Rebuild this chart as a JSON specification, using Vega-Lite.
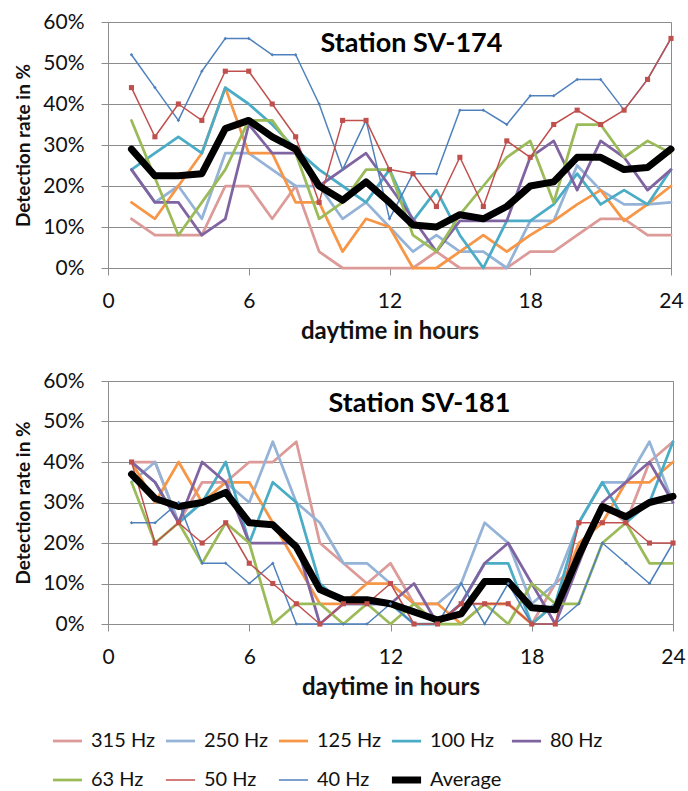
{
  "$schema": "https://vega.github.io/schema/vega-lite/v6.json",
  "padding": {"left": 14, "top": 10, "right": 10, "bottom": 0},
  "background": "white",
  "config": {
    "font": "Lato",
    "view": {"stroke": "#8c8c8c", "strokeWidth": 1},
    "axis": {
      "gridColor": "#8c8c8c", "domainColor": "#8c8c8c", "tickColor": "#8c8c8c",
      "labelColor": "#111111", "titleColor": "#111111",
      "labelFont": "Lato", "titleFont": "Lato",
      "labelFontSize": 21, "titleFontWeight": "bold",
      "tickSize": 7, "labelFlush": false, "labelOverlap": false
    },
    "axisX": {"grid": false, "labelPadding": 15, "titlePadding": 8, "titleFontSize": 24},
    "axisY": {"grid": true, "labelPadding": 17, "titlePadding": 9, "titleFontSize": 19},
    "legend": {
      "columns": 5, "labelFontSize": 20, "labelFont": "Lato",
      "labelColor": "#111111", "symbolType": "stroke", "symbolSize": 850,
      "columnPadding": 6, "rowPadding": 17, "labelOffset": 5, "labelLimit": 200, "clipHeight": 22
    },
    "title": {"font": "Lato", "fontSize": 27, "fontWeight": "bold", "color": "#000000", "anchor": "middle"},
    "concat": {"spacing": 25}
  },
  "datasets": {
    "a": [
      {"s":"315 Hz","h":1,"v":12},{"s":"315 Hz","h":2,"v":8},{"s":"315 Hz","h":3,"v":8},{"s":"315 Hz","h":4,"v":8},{"s":"315 Hz","h":5,"v":20},{"s":"315 Hz","h":6,"v":20},{"s":"315 Hz","h":7,"v":12},{"s":"315 Hz","h":8,"v":20},{"s":"315 Hz","h":9,"v":4},{"s":"315 Hz","h":10,"v":0},{"s":"315 Hz","h":11,"v":0},{"s":"315 Hz","h":12,"v":0},{"s":"315 Hz","h":13,"v":0},{"s":"315 Hz","h":14,"v":4},{"s":"315 Hz","h":15,"v":0},{"s":"315 Hz","h":16,"v":0},{"s":"315 Hz","h":17,"v":0},{"s":"315 Hz","h":18,"v":4},{"s":"315 Hz","h":19,"v":4},{"s":"315 Hz","h":20,"v":8},{"s":"315 Hz","h":21,"v":12},{"s":"315 Hz","h":22,"v":12},{"s":"315 Hz","h":23,"v":8},{"s":"315 Hz","h":24,"v":8},
      {"s":"250 Hz","h":1,"v":24},{"s":"250 Hz","h":2,"v":16},{"s":"250 Hz","h":3,"v":20},{"s":"250 Hz","h":4,"v":12},{"s":"250 Hz","h":5,"v":28},{"s":"250 Hz","h":6,"v":28},{"s":"250 Hz","h":7,"v":24},{"s":"250 Hz","h":8,"v":20},{"s":"250 Hz","h":9,"v":20},{"s":"250 Hz","h":10,"v":12},{"s":"250 Hz","h":11,"v":16},{"s":"250 Hz","h":12,"v":10},{"s":"250 Hz","h":13,"v":4},{"s":"250 Hz","h":14,"v":8},{"s":"250 Hz","h":15,"v":4},{"s":"250 Hz","h":16,"v":4},{"s":"250 Hz","h":17,"v":0},{"s":"250 Hz","h":18,"v":11.5},{"s":"250 Hz","h":19,"v":11.5},{"s":"250 Hz","h":20,"v":25},{"s":"250 Hz","h":21,"v":19},{"s":"250 Hz","h":22,"v":15.5},{"s":"250 Hz","h":23,"v":15.5},{"s":"250 Hz","h":24,"v":16},
      {"s":"125 Hz","h":1,"v":16},{"s":"125 Hz","h":2,"v":12},{"s":"125 Hz","h":3,"v":20},{"s":"125 Hz","h":4,"v":28},{"s":"125 Hz","h":5,"v":44},{"s":"125 Hz","h":6,"v":28},{"s":"125 Hz","h":7,"v":28},{"s":"125 Hz","h":8,"v":16},{"s":"125 Hz","h":9,"v":16},{"s":"125 Hz","h":10,"v":4},{"s":"125 Hz","h":11,"v":12},{"s":"125 Hz","h":12,"v":10},{"s":"125 Hz","h":13,"v":0},{"s":"125 Hz","h":14,"v":0},{"s":"125 Hz","h":15,"v":4},{"s":"125 Hz","h":16,"v":8},{"s":"125 Hz","h":17,"v":4},{"s":"125 Hz","h":18,"v":8},{"s":"125 Hz","h":19,"v":11.5},{"s":"125 Hz","h":20,"v":15.5},{"s":"125 Hz","h":21,"v":19},{"s":"125 Hz","h":22,"v":11.5},{"s":"125 Hz","h":23,"v":15.5},{"s":"125 Hz","h":24,"v":20},
      {"s":"100 Hz","h":1,"v":24},{"s":"100 Hz","h":2,"v":28},{"s":"100 Hz","h":3,"v":32},{"s":"100 Hz","h":4,"v":28},{"s":"100 Hz","h":5,"v":44},{"s":"100 Hz","h":6,"v":40},{"s":"100 Hz","h":7,"v":35},{"s":"100 Hz","h":8,"v":29},{"s":"100 Hz","h":9,"v":24},{"s":"100 Hz","h":10,"v":20},{"s":"100 Hz","h":11,"v":16},{"s":"100 Hz","h":12,"v":24},{"s":"100 Hz","h":13,"v":11.5},{"s":"100 Hz","h":14,"v":19},{"s":"100 Hz","h":15,"v":8},{"s":"100 Hz","h":16,"v":0},{"s":"100 Hz","h":17,"v":11.5},{"s":"100 Hz","h":18,"v":11.5},{"s":"100 Hz","h":19,"v":15.5},{"s":"100 Hz","h":20,"v":23},{"s":"100 Hz","h":21,"v":15.5},{"s":"100 Hz","h":22,"v":19},{"s":"100 Hz","h":23,"v":15.5},{"s":"100 Hz","h":24,"v":24},
      {"s":"80 Hz","h":1,"v":24},{"s":"80 Hz","h":2,"v":16},{"s":"80 Hz","h":3,"v":16},{"s":"80 Hz","h":4,"v":8},{"s":"80 Hz","h":5,"v":12},{"s":"80 Hz","h":6,"v":35},{"s":"80 Hz","h":7,"v":28},{"s":"80 Hz","h":8,"v":28},{"s":"80 Hz","h":9,"v":20},{"s":"80 Hz","h":10,"v":24},{"s":"80 Hz","h":11,"v":28},{"s":"80 Hz","h":12,"v":20},{"s":"80 Hz","h":13,"v":12},{"s":"80 Hz","h":14,"v":4},{"s":"80 Hz","h":15,"v":11.5},{"s":"80 Hz","h":16,"v":11.5},{"s":"80 Hz","h":17,"v":11.5},{"s":"80 Hz","h":18,"v":27},{"s":"80 Hz","h":19,"v":31},{"s":"80 Hz","h":20,"v":19},{"s":"80 Hz","h":21,"v":31},{"s":"80 Hz","h":22,"v":27},{"s":"80 Hz","h":23,"v":19},{"s":"80 Hz","h":24,"v":24},
      {"s":"63 Hz","h":1,"v":36},{"s":"63 Hz","h":2,"v":22},{"s":"63 Hz","h":3,"v":8},{"s":"63 Hz","h":4,"v":16},{"s":"63 Hz","h":5,"v":24},{"s":"63 Hz","h":6,"v":36},{"s":"63 Hz","h":7,"v":36},{"s":"63 Hz","h":8,"v":28},{"s":"63 Hz","h":9,"v":12},{"s":"63 Hz","h":10,"v":16},{"s":"63 Hz","h":11,"v":24},{"s":"63 Hz","h":12,"v":24},{"s":"63 Hz","h":13,"v":8},{"s":"63 Hz","h":14,"v":4},{"s":"63 Hz","h":15,"v":13},{"s":"63 Hz","h":16,"v":20},{"s":"63 Hz","h":17,"v":27},{"s":"63 Hz","h":18,"v":31},{"s":"63 Hz","h":19,"v":16},{"s":"63 Hz","h":20,"v":35},{"s":"63 Hz","h":21,"v":35},{"s":"63 Hz","h":22,"v":27},{"s":"63 Hz","h":23,"v":31},{"s":"63 Hz","h":24,"v":28},
      {"s":"40 Hz","h":1,"v":52},{"s":"40 Hz","h":2,"v":44},{"s":"40 Hz","h":3,"v":36},{"s":"40 Hz","h":4,"v":48},{"s":"40 Hz","h":5,"v":56},{"s":"40 Hz","h":6,"v":56},{"s":"40 Hz","h":7,"v":52},{"s":"40 Hz","h":8,"v":52},{"s":"40 Hz","h":9,"v":40},{"s":"40 Hz","h":10,"v":24},{"s":"40 Hz","h":11,"v":36},{"s":"40 Hz","h":12,"v":12},{"s":"40 Hz","h":13,"v":23},{"s":"40 Hz","h":14,"v":23},{"s":"40 Hz","h":15,"v":38.5},{"s":"40 Hz","h":16,"v":38.5},{"s":"40 Hz","h":17,"v":35},{"s":"40 Hz","h":18,"v":42},{"s":"40 Hz","h":19,"v":42},{"s":"40 Hz","h":20,"v":46},{"s":"40 Hz","h":21,"v":46},{"s":"40 Hz","h":22,"v":38.5},{"s":"40 Hz","h":23,"v":46},{"s":"40 Hz","h":24,"v":56},
      {"s":"50 Hz","h":1,"v":44},{"s":"50 Hz","h":2,"v":32},{"s":"50 Hz","h":3,"v":40},{"s":"50 Hz","h":4,"v":36},{"s":"50 Hz","h":5,"v":48},{"s":"50 Hz","h":6,"v":48},{"s":"50 Hz","h":7,"v":40},{"s":"50 Hz","h":8,"v":32},{"s":"50 Hz","h":9,"v":16},{"s":"50 Hz","h":10,"v":36},{"s":"50 Hz","h":11,"v":36},{"s":"50 Hz","h":12,"v":24},{"s":"50 Hz","h":13,"v":23},{"s":"50 Hz","h":14,"v":15},{"s":"50 Hz","h":15,"v":27},{"s":"50 Hz","h":16,"v":15},{"s":"50 Hz","h":17,"v":31},{"s":"50 Hz","h":18,"v":27},{"s":"50 Hz","h":19,"v":35},{"s":"50 Hz","h":20,"v":38.5},{"s":"50 Hz","h":21,"v":35},{"s":"50 Hz","h":22,"v":38.5},{"s":"50 Hz","h":23,"v":46},{"s":"50 Hz","h":24,"v":56},
      {"s":"Average","h":1,"v":29},{"s":"Average","h":2,"v":22.5},{"s":"Average","h":3,"v":22.5},{"s":"Average","h":4,"v":23},{"s":"Average","h":5,"v":34},{"s":"Average","h":6,"v":36},{"s":"Average","h":7,"v":32},{"s":"Average","h":8,"v":29},{"s":"Average","h":9,"v":20},{"s":"Average","h":10,"v":16.5},{"s":"Average","h":11,"v":21},{"s":"Average","h":12,"v":16},{"s":"Average","h":13,"v":10.5},{"s":"Average","h":14,"v":10},{"s":"Average","h":15,"v":13},{"s":"Average","h":16,"v":12},{"s":"Average","h":17,"v":15},{"s":"Average","h":18,"v":20},{"s":"Average","h":19,"v":21},{"s":"Average","h":20,"v":27},{"s":"Average","h":21,"v":27},{"s":"Average","h":22,"v":24},{"s":"Average","h":23,"v":24.5},{"s":"Average","h":24,"v":29}
    ],
    "b": [
      {"s":"315 Hz","h":1,"v":40},{"s":"315 Hz","h":2,"v":40},{"s":"315 Hz","h":3,"v":25},{"s":"315 Hz","h":4,"v":35},{"s":"315 Hz","h":5,"v":35},{"s":"315 Hz","h":6,"v":40},{"s":"315 Hz","h":7,"v":40},{"s":"315 Hz","h":8,"v":45},{"s":"315 Hz","h":9,"v":20},{"s":"315 Hz","h":10,"v":15},{"s":"315 Hz","h":11,"v":10},{"s":"315 Hz","h":12,"v":15},{"s":"315 Hz","h":13,"v":5},{"s":"315 Hz","h":14,"v":0},{"s":"315 Hz","h":15,"v":5},{"s":"315 Hz","h":16,"v":5},{"s":"315 Hz","h":17,"v":5},{"s":"315 Hz","h":18,"v":0},{"s":"315 Hz","h":19,"v":10},{"s":"315 Hz","h":20,"v":15},{"s":"315 Hz","h":21,"v":30},{"s":"315 Hz","h":22,"v":25},{"s":"315 Hz","h":23,"v":40},{"s":"315 Hz","h":24,"v":45},
      {"s":"250 Hz","h":1,"v":35},{"s":"250 Hz","h":2,"v":40},{"s":"250 Hz","h":3,"v":25},{"s":"250 Hz","h":4,"v":30},{"s":"250 Hz","h":5,"v":35},{"s":"250 Hz","h":6,"v":30},{"s":"250 Hz","h":7,"v":45},{"s":"250 Hz","h":8,"v":30},{"s":"250 Hz","h":9,"v":25},{"s":"250 Hz","h":10,"v":15},{"s":"250 Hz","h":11,"v":15},{"s":"250 Hz","h":12,"v":10},{"s":"250 Hz","h":13,"v":5},{"s":"250 Hz","h":14,"v":5},{"s":"250 Hz","h":15,"v":10},{"s":"250 Hz","h":16,"v":25},{"s":"250 Hz","h":17,"v":20},{"s":"250 Hz","h":18,"v":5},{"s":"250 Hz","h":19,"v":10},{"s":"250 Hz","h":20,"v":25},{"s":"250 Hz","h":21,"v":35},{"s":"250 Hz","h":22,"v":35},{"s":"250 Hz","h":23,"v":45},{"s":"250 Hz","h":24,"v":30},
      {"s":"125 Hz","h":1,"v":40},{"s":"125 Hz","h":2,"v":30},{"s":"125 Hz","h":3,"v":40},{"s":"125 Hz","h":4,"v":30},{"s":"125 Hz","h":5,"v":35},{"s":"125 Hz","h":6,"v":35},{"s":"125 Hz","h":7,"v":25},{"s":"125 Hz","h":8,"v":15},{"s":"125 Hz","h":9,"v":5},{"s":"125 Hz","h":10,"v":5},{"s":"125 Hz","h":11,"v":10},{"s":"125 Hz","h":12,"v":10},{"s":"125 Hz","h":13,"v":5},{"s":"125 Hz","h":14,"v":5},{"s":"125 Hz","h":15,"v":0},{"s":"125 Hz","h":16,"v":5},{"s":"125 Hz","h":17,"v":5},{"s":"125 Hz","h":18,"v":0},{"s":"125 Hz","h":19,"v":5},{"s":"125 Hz","h":20,"v":20},{"s":"125 Hz","h":21,"v":25},{"s":"125 Hz","h":22,"v":35},{"s":"125 Hz","h":23,"v":35},{"s":"125 Hz","h":24,"v":40},
      {"s":"100 Hz","h":1,"v":40},{"s":"100 Hz","h":2,"v":35},{"s":"100 Hz","h":3,"v":25},{"s":"100 Hz","h":4,"v":30},{"s":"100 Hz","h":5,"v":40},{"s":"100 Hz","h":6,"v":20},{"s":"100 Hz","h":7,"v":35},{"s":"100 Hz","h":8,"v":30},{"s":"100 Hz","h":9,"v":10},{"s":"100 Hz","h":10,"v":5},{"s":"100 Hz","h":11,"v":5},{"s":"100 Hz","h":12,"v":5},{"s":"100 Hz","h":13,"v":0},{"s":"100 Hz","h":14,"v":0},{"s":"100 Hz","h":15,"v":5},{"s":"100 Hz","h":16,"v":15},{"s":"100 Hz","h":17,"v":15},{"s":"100 Hz","h":18,"v":0},{"s":"100 Hz","h":19,"v":5},{"s":"100 Hz","h":20,"v":25},{"s":"100 Hz","h":21,"v":35},{"s":"100 Hz","h":22,"v":25},{"s":"100 Hz","h":23,"v":30},{"s":"100 Hz","h":24,"v":45},
      {"s":"80 Hz","h":1,"v":40},{"s":"80 Hz","h":2,"v":35},{"s":"80 Hz","h":3,"v":25},{"s":"80 Hz","h":4,"v":40},{"s":"80 Hz","h":5,"v":35},{"s":"80 Hz","h":6,"v":20},{"s":"80 Hz","h":7,"v":20},{"s":"80 Hz","h":8,"v":20},{"s":"80 Hz","h":9,"v":0},{"s":"80 Hz","h":10,"v":5},{"s":"80 Hz","h":11,"v":5},{"s":"80 Hz","h":12,"v":5},{"s":"80 Hz","h":13,"v":10},{"s":"80 Hz","h":14,"v":0},{"s":"80 Hz","h":15,"v":5},{"s":"80 Hz","h":16,"v":15},{"s":"80 Hz","h":17,"v":20},{"s":"80 Hz","h":18,"v":10},{"s":"80 Hz","h":19,"v":0},{"s":"80 Hz","h":20,"v":15},{"s":"80 Hz","h":21,"v":30},{"s":"80 Hz","h":22,"v":35},{"s":"80 Hz","h":23,"v":40},{"s":"80 Hz","h":24,"v":30},
      {"s":"63 Hz","h":1,"v":35},{"s":"63 Hz","h":2,"v":20},{"s":"63 Hz","h":3,"v":25},{"s":"63 Hz","h":4,"v":15},{"s":"63 Hz","h":5,"v":25},{"s":"63 Hz","h":6,"v":20},{"s":"63 Hz","h":7,"v":0},{"s":"63 Hz","h":8,"v":5},{"s":"63 Hz","h":9,"v":5},{"s":"63 Hz","h":10,"v":0},{"s":"63 Hz","h":11,"v":5},{"s":"63 Hz","h":12,"v":0},{"s":"63 Hz","h":13,"v":5},{"s":"63 Hz","h":14,"v":0},{"s":"63 Hz","h":15,"v":0},{"s":"63 Hz","h":16,"v":5},{"s":"63 Hz","h":17,"v":0},{"s":"63 Hz","h":18,"v":10},{"s":"63 Hz","h":19,"v":5},{"s":"63 Hz","h":20,"v":5},{"s":"63 Hz","h":21,"v":20},{"s":"63 Hz","h":22,"v":25},{"s":"63 Hz","h":23,"v":15},{"s":"63 Hz","h":24,"v":15},
      {"s":"40 Hz","h":1,"v":25},{"s":"40 Hz","h":2,"v":25},{"s":"40 Hz","h":3,"v":30},{"s":"40 Hz","h":4,"v":15},{"s":"40 Hz","h":5,"v":15},{"s":"40 Hz","h":6,"v":10},{"s":"40 Hz","h":7,"v":15},{"s":"40 Hz","h":8,"v":0},{"s":"40 Hz","h":9,"v":0},{"s":"40 Hz","h":10,"v":0},{"s":"40 Hz","h":11,"v":0},{"s":"40 Hz","h":12,"v":5},{"s":"40 Hz","h":13,"v":0},{"s":"40 Hz","h":14,"v":0},{"s":"40 Hz","h":15,"v":10},{"s":"40 Hz","h":16,"v":0},{"s":"40 Hz","h":17,"v":10},{"s":"40 Hz","h":18,"v":0},{"s":"40 Hz","h":19,"v":0},{"s":"40 Hz","h":20,"v":5},{"s":"40 Hz","h":21,"v":20},{"s":"40 Hz","h":22,"v":15},{"s":"40 Hz","h":23,"v":10},{"s":"40 Hz","h":24,"v":20},
      {"s":"50 Hz","h":1,"v":40},{"s":"50 Hz","h":2,"v":20},{"s":"50 Hz","h":3,"v":25},{"s":"50 Hz","h":4,"v":20},{"s":"50 Hz","h":5,"v":25},{"s":"50 Hz","h":6,"v":15},{"s":"50 Hz","h":7,"v":10},{"s":"50 Hz","h":8,"v":5},{"s":"50 Hz","h":9,"v":0},{"s":"50 Hz","h":10,"v":5},{"s":"50 Hz","h":11,"v":5},{"s":"50 Hz","h":12,"v":10},{"s":"50 Hz","h":13,"v":0},{"s":"50 Hz","h":14,"v":0},{"s":"50 Hz","h":15,"v":5},{"s":"50 Hz","h":16,"v":5},{"s":"50 Hz","h":17,"v":5},{"s":"50 Hz","h":18,"v":0},{"s":"50 Hz","h":19,"v":0},{"s":"50 Hz","h":20,"v":25},{"s":"50 Hz","h":21,"v":25},{"s":"50 Hz","h":22,"v":25},{"s":"50 Hz","h":23,"v":20},{"s":"50 Hz","h":24,"v":20},
      {"s":"Average","h":1,"v":37},{"s":"Average","h":2,"v":31},{"s":"Average","h":3,"v":29},{"s":"Average","h":4,"v":30},{"s":"Average","h":5,"v":32.5},{"s":"Average","h":6,"v":25},{"s":"Average","h":7,"v":24.5},{"s":"Average","h":8,"v":19},{"s":"Average","h":9,"v":8.5},{"s":"Average","h":10,"v":6},{"s":"Average","h":11,"v":6},{"s":"Average","h":12,"v":5},{"s":"Average","h":13,"v":3},{"s":"Average","h":14,"v":1},{"s":"Average","h":15,"v":2.5},{"s":"Average","h":16,"v":10.5},{"s":"Average","h":17,"v":10.5},{"s":"Average","h":18,"v":4},{"s":"Average","h":19,"v":3.5},{"s":"Average","h":20,"v":17},{"s":"Average","h":21,"v":29},{"s":"Average","h":22,"v":26.5},{"s":"Average","h":23,"v":30},{"s":"Average","h":24,"v":31.5}
    ]
  },
  "vconcat": [
    {
      "width": 563, "height": 246,
      "data": {"name": "a"},
      "title": {"text": "Station SV-174", "offset": -47, "dx": 22},
      "layer": [
        {
          "mark": {"type": "line", "strokeJoin": "round", "strokeCap": "round"},
          "encoding": {
            "x": {"field": "h", "type": "quantitative", "scale": {"domain": [0, 24], "nice": false},
                  "axis": {"values": [0, 6, 12, 18, 24], "title": "daytime in hours"}},
            "y": {"field": "v", "type": "quantitative", "scale": {"domain": [0, 60], "nice": false},
                  "axis": {"values": [0, 10, 20, 30, 40, 50, 60], "labelExpr": "datum.value + '%'", "title": "Detection rate in %"}},
            "color": {"field": "s", "type": "nominal", "title": null,
              "scale": {"domain": ["315 Hz","250 Hz","125 Hz","100 Hz","80 Hz","63 Hz","50 Hz","40 Hz","Average"],
                        "range": ["#DC9A98","#95B3D7","#F79646","#4BACC6","#8064A2","#9BBB59","#C0504D","#4F81BD","#000000"]},
              "legend": {"orient": "none", "legendX": -59, "legendY": 708, "direction": "horizontal"}},
            "strokeWidth": {"field": "s", "type": "nominal", "title": null,
              "scale": {"type": "ordinal", "domain": ["315 Hz","250 Hz","125 Hz","100 Hz","80 Hz","63 Hz","50 Hz","40 Hz","Average"],
                        "range": [2.75, 2.75, 2.75, 2.75, 2.75, 2.75, 1.5, 1.5, 7]},
              "legend": {"orient": "none", "legendX": -59, "legendY": 708, "direction": "horizontal"}},
            "order": {"field": "h"}
          }
        },
        {
          "transform": [{"filter": "datum.s === '50 Hz' || datum.s === '40 Hz'"}],
          "mark": {"type": "point", "filled": true, "opacity": 1},
          "encoding": {
            "x": {"field": "h", "type": "quantitative"},
            "y": {"field": "v", "type": "quantitative"},
            "shape": {"condition": {"test": "datum.s === '50 Hz'", "value": "square"}, "value": "diamond"},
            "size": {"condition": {"test": "datum.s === '50 Hz'", "value": 26}, "value": 12},
            "fill": {"condition": {"test": "datum.s === '50 Hz'", "value": "#C0504D"}, "value": "#4F81BD"}
          }
        }
      ]
    },
    {
      "width": 565, "height": 243,
      "data": {"name": "b"},
      "title": {"text": "Station SV-181", "offset": -48, "dx": 29},
      "layer": [
        {
          "mark": {"type": "line", "strokeJoin": "round", "strokeCap": "round"},
          "encoding": {
            "x": {"field": "h", "type": "quantitative", "scale": {"domain": [0, 24], "nice": false},
                  "axis": {"values": [0, 6, 12, 18, 24], "title": "daytime in hours"}},
            "y": {"field": "v", "type": "quantitative", "scale": {"domain": [0, 60], "nice": false},
                  "axis": {"values": [0, 10, 20, 30, 40, 50, 60], "labelExpr": "datum.value + '%'", "title": "Detection rate in %"}},
            "color": {"field": "s", "type": "nominal", "title": null,
              "scale": {"domain": ["315 Hz","250 Hz","125 Hz","100 Hz","80 Hz","63 Hz","50 Hz","40 Hz","Average"],
                        "range": ["#DC9A98","#95B3D7","#F79646","#4BACC6","#8064A2","#9BBB59","#C0504D","#4F81BD","#000000"]},
              "legend": {"orient": "none", "legendX": -59, "legendY": 708, "direction": "horizontal"}},
            "strokeWidth": {"field": "s", "type": "nominal", "title": null,
              "scale": {"type": "ordinal", "domain": ["315 Hz","250 Hz","125 Hz","100 Hz","80 Hz","63 Hz","50 Hz","40 Hz","Average"],
                        "range": [2.75, 2.75, 2.75, 2.75, 2.75, 2.75, 1.5, 1.5, 7]},
              "legend": {"orient": "none", "legendX": -59, "legendY": 708, "direction": "horizontal"}},
            "order": {"field": "h"}
          }
        },
        {
          "transform": [{"filter": "datum.s === '50 Hz' || datum.s === '40 Hz'"}],
          "mark": {"type": "point", "filled": true, "opacity": 1},
          "encoding": {
            "x": {"field": "h", "type": "quantitative"},
            "y": {"field": "v", "type": "quantitative"},
            "shape": {"condition": {"test": "datum.s === '50 Hz'", "value": "square"}, "value": "diamond"},
            "size": {"condition": {"test": "datum.s === '50 Hz'", "value": 26}, "value": 12},
            "fill": {"condition": {"test": "datum.s === '50 Hz'", "value": "#C0504D"}, "value": "#4F81BD"}
          }
        }
      ]
    }
  ]
}
